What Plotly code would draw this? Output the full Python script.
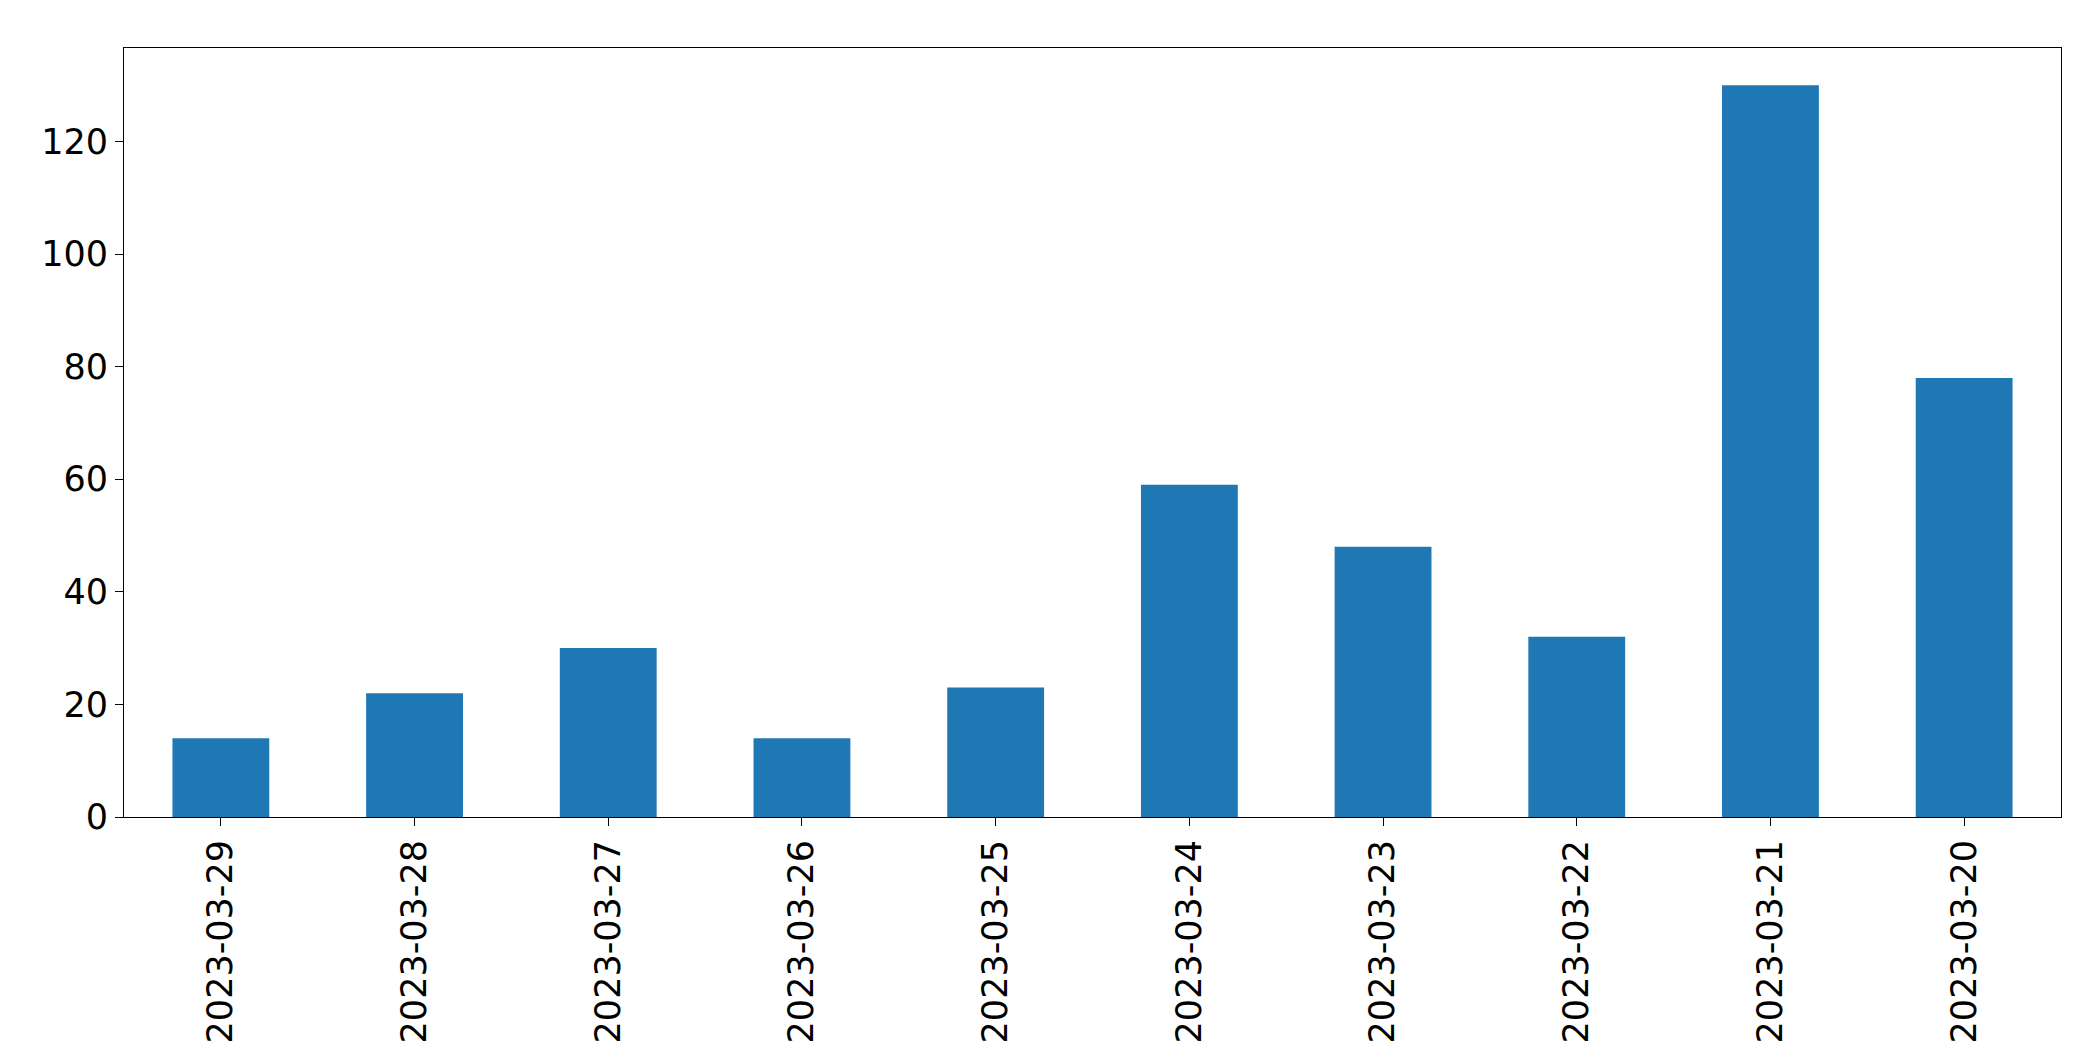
import plotly.graph_objects as go

dates = ["2023-03-29","2023-03-28","2023-03-27","2023-03-26","2023-03-25",
         "2023-03-24","2023-03-23","2023-03-22","2023-03-21","2023-03-20"]
counts = [14, 22, 30, 14, 23, 59, 48, 32, 130, 78]

fig = go.Figure(go.Bar(x=dates, y=counts, width=0.5, marker_color="#1f77b4", marker_line_width=0))
fig.update_layout(
    width=2093, height=1061, plot_bgcolor="white", paper_bgcolor="white",
    margin=dict(l=116, r=40, t=40, b=252), showlegend=False,
    font=dict(family="DejaVu Sans", size=35, color="black"),
)
fig.update_xaxes(type="category", range=[-0.5, 9.5], tickangle=-90, showline=True, linecolor="black",
                 mirror=True, ticks="outside", ticklen=8, tickcolor="black", showgrid=False)
fig.update_yaxes(range=[0, 136.6], tickvals=[0,20,40,60,80,100,120], showline=True, linecolor="black",
                 mirror=True, ticks="outside", ticklen=8, tickcolor="black", showgrid=False, zeroline=False)
fig.write_html("out.html")
